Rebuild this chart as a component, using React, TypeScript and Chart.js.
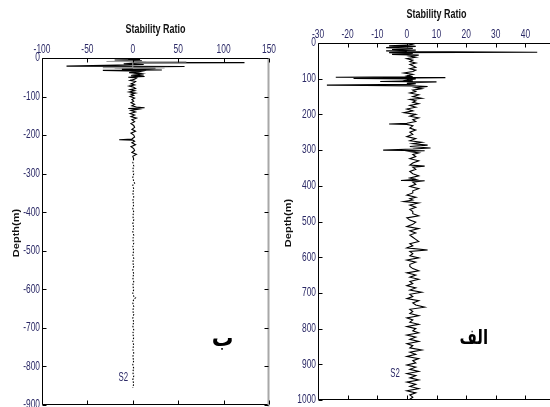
import React, { useEffect, useRef } from 'react';
import { Chart, registerables } from 'chart.js';
Chart.register(...registerables);

// ---- Panel "ب" (left): depth is negative, values are stability ratio ----
const bDepth = [
  0, -2, -4, -5, -7, -9, -11, -12, -13, -15,
  -17, -19, -21, -22, -23, -25, -27, -29, -31, -32,
  -34, -36, -38, -40, -42, -44, -46, -48, -50, -52,
  -55, -58, -61, -64, -67, -70, -73, -76, -79, -82,
  -85, -88, -91, -94, -97, -100, -104, -108, -112, -116,
  -120, -124, -127, -129, -131, -133, -136, -140, -144, -148,
  -152, -156, -160, -165, -170, -175, -180, -185, -190, -195,
  -200, -205, -210, -212, -213, -216, -220, -225, -230, -235,
  -240, -245, -250, -255, -262, -270, -280, -290, -300, -310,
  -320, -325, -330, -340, -350, -360, -370, -380, -390, -400,
  -410, -420, -430, -440, -450, -460, -470, -480, -490, -500,
  -510, -520, -530, -540, -550, -560, -570, -580, -590, -600,
  -610, -618, -622, -626, -635, -645, -655, -665, -675, -685,
  -695, -705, -715, -725, -735, -745, -755, -765, -775, -785,
  -795, -805, -815, -825, -835, -845, -855,
];
const bValue = [
  2, -5, 8, -20, 10, -8, 15, 123, 5, -10,
  12, -30, -73, 57, 4, -20, 25, -12, 32, -33,
  10, 6, -4, 9, 3, 12, -2, 13, -5, 4,
  2, -3, 3, 1, -2, 2, -4, 1, 3, -3,
  2, -4, 3, -2, 1, -3, 2, -1, 1, -2,
  2, -1, 4, 13, -5, 6, -2, 3, -3, 2,
  -2, 4, -1, 2, -2, 1, 2, -1, 3, -2,
  1, 2, -1, -15, 0, 2, -1, 3, -2, 1,
  2, -1, 4, 0, 1, 0, 1, 0, 1, 0,
  1, 2, 0, 1, 0, 1, 0, 1, 0, 1,
  0, 1, 0, 1, 0, 1, 0, 1, 0, 1,
  0, 1, 0, 1, 0, 1, 0, 1, 0, 1,
  0, 1, 3, 1, 0, 1, 0, 1, 0, 1,
  0, 1, 0, 1, 0, 1, 0, 1, 0, 1,
  0, 1, 0, 1, 0, 1, 0,
];
const bGrayDepth = [-8, -9, -10, -11, -24, -25, -26, -27];
const bGrayValue = [0, -29, 59, 0, 0, -33, 35, 0];

// ---- Panel "الف" (right): depth positive downward ----
const aDepth = [
  0, 5, 8, 10, 13, 15, 18, 20, 22, 24,
  26, 27, 29, 32, 34, 37, 40, 44, 48, 52,
  56, 60, 64, 68, 72, 76, 80, 84, 88, 92,
  95, 96, 97, 99, 101, 104, 106, 108, 109, 111,
  113, 114, 116, 118, 119, 120, 122, 125, 128, 132,
  136, 140, 145, 150, 155, 158, 162, 166, 170, 175,
  180, 185, 190, 195, 200, 205, 210, 215, 220, 225,
  227, 228, 232, 238, 244, 250, 256, 262, 268, 274,
  278, 282, 286, 290, 294, 297, 300, 302, 304, 308,
  312, 318, 324, 330, 336, 342, 345, 348, 354, 360,
  366, 372, 378, 382, 385, 386, 390, 396, 402, 408,
  414, 420, 426, 432, 436, 440, 444, 448, 454, 460,
  466, 472, 478, 484, 490, 496, 502, 508, 514, 520,
  526, 532, 538, 544, 550, 556, 562, 568, 574, 580,
  584, 590, 596, 602, 608, 614, 620, 626, 632, 638,
  644, 650, 656, 662, 668, 674, 680, 686, 692, 698,
  704, 710, 716, 722, 728, 734, 740, 746, 752, 758,
  764, 770, 776, 782, 788, 794, 800, 806, 812, 818,
  824, 830, 836, 842, 848, 854, 860, 866, 872, 878,
  884, 890, 896, 902, 908, 914, 920, 926, 932, 938,
  944, 950, 956, 962, 968, 974, 980, 986, 992, 998,
];
const aValue = [
  0, 2, -6, 3, -7, 2, -5, 3, -7, 0,
  44, -6, 2, -5, 4, 1, 3, 0, 2, 1,
  3, 1, 2, 3, 1, 3, 2, -1, 2, 0,
  2, -24, 13, -18, 3, 0, 2, -9, 10, 2,
  0, 3, 1, -27, -14, 2, 7, 3, 5, 2,
  3, 1, 4, 2, 5, 1, 3, 2, 4, 1,
  3, 0, 2, -1, 3, 1, 4, 2, 3, 0,
  -6, 0, 2, 1, 3, 1, 2, 0, 3, 1,
  5, 2, 7, 1, 8, 2, -8, 6, 1, 4,
  2, 3, 1, 4, 2, 1, 6, 2, 3, 1,
  2, 4, 1, 3, -2, 6, 2, 3, 1, 4,
  2, 2, 0, 3, 1, 2, -1, 4, 1, 3,
  1, 2, 2, 4, 0, 1, 3, 2, 0, 4,
  1, 3, 1, 2, 3, 4, 1, 2, 0, 7,
  1, 2, 1, 4, 0, 3, 1, 1, 2, 4,
  0, 3, 1, 4, 1, 2, 0, 3, 1, 5,
  1, 2, 0, 4, 2, 3, 6, 1, 2, 1,
  4, 0, 2, 1, 4, 0, 3, 2, 4, 0,
  3, 1, 4, 0, 2, 1, 5, 1, 3, 0,
  4, 2, 3, 0, 3, 1, 4, 0, 3, 1,
  4, 0, 3, 1, 4, 0, 3, 1, 2, 1,
];

const TICK_COLOR = '#2b2966';
const TICK_FONT = '12px "Liberation Sans", Arial, sans-serif';

function txt(
  ctx: CanvasRenderingContext2D, s: string, x: number, y: number, font: string, color: string,
  align: CanvasTextAlign, baseline: CanvasTextBaseline, sx = 1, sy = 1, rot = 0,
) {
  ctx.save();
  ctx.translate(x, y);
  if (rot) ctx.rotate(rot);
  ctx.scale(sx, sy);
  ctx.font = font;
  ctx.fillStyle = color;
  ctx.textAlign = align;
  ctx.textBaseline = baseline;
  ctx.fillText(s, 0, 0);
  ctx.restore();
}

const framePlugin = {
  id: 'frame',
  afterDraw(chart: any, _args: any, o: any) {
    const { ctx, chartArea: a, scales } = chart;
    const xs = scales.x, ys = scales.y;
    const L = Math.round(a.left) + 0.5, R = Math.round(a.right) - 0.5;
    const T = Math.round(a.top) + 0.5, B = Math.round(a.bottom) - 0.5;
    ctx.save();
    ctx.lineWidth = 1;
    ctx.strokeStyle = '#000';
    ctx.beginPath();
    ctx.moveTo(L, B); ctx.lineTo(L, T); ctx.lineTo(R, T);
    ctx.moveTo(L, B); ctx.lineTo(R, B);
    ctx.stroke();
    ctx.strokeStyle = o.rightColor;
    ctx.lineWidth = 2;
    ctx.beginPath(); ctx.moveTo(R, T); ctx.lineTo(R, B + 2); ctx.stroke();
    ctx.lineWidth = 1;
    ctx.strokeStyle = '#000';
    const tl = 4;
    ctx.beginPath();
    xs.ticks.forEach((t: any) => {
      const px = Math.round(xs.getPixelForValue(t.value)) + 0.5;
      ctx.moveTo(px, T); ctx.lineTo(px, T + tl);
      ctx.moveTo(px, B); ctx.lineTo(px, B - tl);
    });
    ys.ticks.forEach((t: any) => {
      const py = Math.round(ys.getPixelForValue(t.value)) + 0.5;
      ctx.moveTo(L, py); ctx.lineTo(L + tl, py);
      ctx.moveTo(R, py); ctx.lineTo(R - tl, py);
    });
    ctx.stroke();
    xs.ticks.forEach((t: any) => {
      txt(ctx, String(t.value), xs.getPixelForValue(t.value), a.top - 2.5, TICK_FONT, TICK_COLOR, 'center', 'bottom', 0.7);
    });
    ys.ticks.forEach((t: any) => {
      txt(ctx, String(t.value), a.left - 2, ys.getPixelForValue(t.value), TICK_FONT, TICK_COLOR, 'right', 'middle', 0.7);
    });
    // title
    txt(ctx, 'Stability Ratio', (a.left + a.right) / 2, o.titleY, 'bold 12px "Liberation Sans", Arial, sans-serif', '#111', 'center', 'middle', 0.75);
    // y-axis title
    txt(ctx, 'Depth(m)', o.depthX, o.depthY, 'bold 11px "Liberation Sans", Arial, sans-serif', '#111', 'center', 'middle', 1, 0.8, -Math.PI / 2);
    // annotations
    txt(ctx, 'S2', xs.getPixelForValue(o.s2[0]), ys.getPixelForValue(o.s2[1]), '12px "Liberation Sans", Arial, sans-serif', TICK_COLOR, 'center', 'middle', 0.65);
    txt(ctx, o.mark, xs.getPixelForValue(o.markAt[0]), ys.getPixelForValue(o.markAt[1]), o.markFont, '#000', 'center', 'middle', o.markScale);
    ctx.restore();
  },
};

type Cfg = {
  left: number; width: number; height: number;
  xMin: number; xMax: number; xStep: number;
  yMin: number; yMax: number; yStep: number; reverse: boolean;
  axisW: number; axisH: number; padRight: number; padBottom: number;
  series: { x: number[]; y: number[]; color: string; dashBelow?: number }[];
  frame: any;
};

function Panel({ cfg }: { cfg: Cfg }) {
  const ref = useRef<HTMLCanvasElement>(null);
  useEffect(() => {
    const chart = new Chart(ref.current!, {
      type: 'scatter',
      data: {
        datasets: cfg.series.map((s) => ({
          data: s.x.map((v, i) => ({ x: v, y: s.y[i] })),
          showLine: true,
          borderColor: s.color,
          borderWidth: 1.1,
          pointRadius: 0,
          fill: false,
          tension: 0,
          segment: s.dashBelow !== undefined
            ? { borderDash: (c: any) => (c.p0.parsed.y < (s.dashBelow as number) ? [1.5, 1.5] : undefined) }
            : undefined,
        })) as any,
      },
      options: {
        animation: false,
        responsive: false,
        devicePixelRatio: 1,
        layout: { padding: { left: 0, top: 0, right: cfg.padRight, bottom: cfg.padBottom } },
        scales: {
          x: {
            type: 'linear', position: 'top', min: cfg.xMin, max: cfg.xMax,
            ticks: { display: false, stepSize: cfg.xStep },
            grid: { display: false }, border: { display: false },
            afterFit: (s: any) => { s.height = cfg.axisH; },
          },
          y: {
            type: 'linear', position: 'left', min: cfg.yMin, max: cfg.yMax, reverse: cfg.reverse,
            ticks: { display: false, stepSize: cfg.yStep },
            grid: { display: false }, border: { display: false },
            afterFit: (s: any) => { s.width = cfg.axisW; },
          },
        },
        plugins: {
          legend: { display: false },
          tooltip: { enabled: false },
          frame: cfg.frame,
        } as any,
      },
      plugins: [framePlugin],
    });
    return () => chart.destroy();
  }, []);
  return (
    <canvas
      ref={ref}
      width={cfg.width}
      height={cfg.height}
      style={{ position: 'absolute', left: cfg.left, top: 0, width: cfg.width, height: cfg.height }}
    />
  );
}

const leftCfg: Cfg = {
  left: 0, width: 290, height: 420,
  xMin: -100, xMax: 150, xStep: 50,
  yMin: -900, yMax: 0, yStep: 100, reverse: false,
  axisW: 42, axisH: 58, padRight: 21, padBottom: 15,
  series: [
    { x: bGrayValue, y: bGrayDepth, color: '#9a9a9a' },
    { x: bValue, y: bDepth, color: '#000', dashBelow: -255 },
  ],
  frame: {
    titleY: 30, depthX: 17, depthY: 233, rightColor: '#a8a8a8', s2: [-10.5, -830],
    mark: 'ب', markAt: [99, -732], markFont: 'bold 24px "DejaVu Sans", sans-serif', markScale: 0.9,
  },
};

const rightCfg: Cfg = {
  left: 275, width: 300, height: 420,
  xMin: -30, xMax: 50, xStep: 10,
  yMin: 0, yMax: 1000, yStep: 100, reverse: true,
  axisW: 43, axisH: 43, padRight: 20, padBottom: 20,
  series: [{ x: aValue, y: aDepth, color: '#000' }],
  frame: {
    titleY: 15, depthX: 14, depthY: 223, rightColor: '#000', s2: [-4, 927],
    mark: 'الف', markAt: [22.6, 829], markFont: 'bold 20px "DejaVu Sans", sans-serif', markScale: 0.75,
  },
};

export default function App() {
  return (
    <div style={{ position: 'fixed', left: 0, top: 0, width: 550, height: 407, overflow: 'hidden', background: '#fff' }}>
      <Panel cfg={leftCfg} />
      <Panel cfg={rightCfg} />
    </div>
  );
}
